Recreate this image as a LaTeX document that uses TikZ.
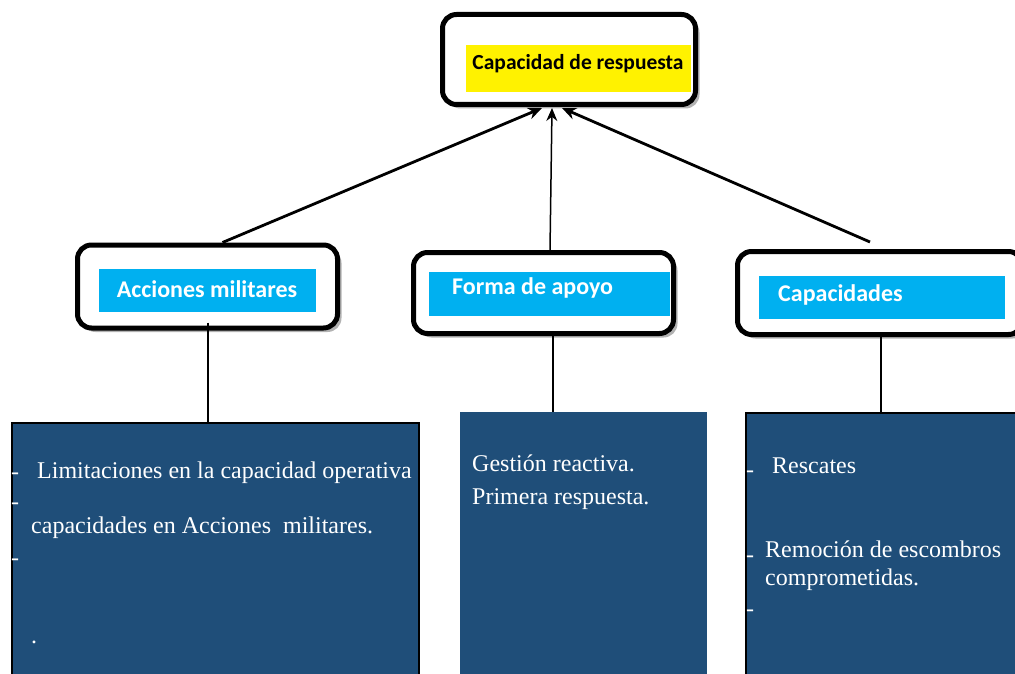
\documentclass[tikz,border=0pt]{standalone}
\usepackage{fontspec}
\setmainfont{Liberation Serif}
\newfontfamily\calfont{Carlito}
\usetikzlibrary{shadows,arrows.meta,calc}
\definecolor{darkblue}{RGB}{31,78,121}
\definecolor{cyanbox}{RGB}{0,176,240}
\begin{document}
\begin{tikzpicture}[x=1pt,y=-1pt,
 outerbox/.style={draw=black, line width=5pt, rounded corners=14pt, fill=white,
   drop shadow={shadow xshift=4pt,shadow yshift=-4pt,opacity=0.3,fill=black}, inner sep=0},
 labelbox/.style={fill=cyanbox, inner sep=0},
 labeltext/.style={text=white, font=\calfont\bfseries\fontsize{24}{28}\selectfont, inner sep=0},
 bodybox/.style={fill=darkblue, inner sep=0},
 bodytext/.style={text=white, font=\fontsize{24}{28}\selectfont, anchor=base west, inner sep=0},
 link/.style={line width=2pt},
 arr/.style={line width=2.8pt, -{Stealth[length=14pt,width=12pt]}}]
\useasboundingbox (0,0) rectangle (1015,674);
\fill[white] (0,0) rectangle (1015,674);

% top box
\node[outerbox, minimum width=253pt, minimum height=90pt] (top) at (569,59.5) {};
\node[fill=yellow, inner sep=0, minimum width=225pt, minimum height=47pt] (topl) at (578.5,68.5) {};
\node[inner sep=0, font=\calfont\bfseries\fontsize{21.5}{25}\selectfont] (toptext) at (578,64) {Capacidad de respuesta};

% middle boxes
\node[outerbox, minimum width=260pt, minimum height=83pt] (acc) at (207.5,286.5) {};
\node[labelbox, minimum width=217pt, minimum height=43pt] (accl) at (207.5,290.5) {};
\node[labeltext] (acct) at (207,289) {Acciones militares};

\node[outerbox, minimum width=260pt, minimum height=81pt] (fa) at (543.5,293) {};
\node[labelbox, minimum width=241pt, minimum height=44pt] (fal) at (549.5,294) {};
\node[labeltext, anchor=west] (fat) at (452,288) {Forma de apoyo};

\node[outerbox, minimum width=285pt, minimum height=83pt] (cap) at (880,293) {};
\node[labelbox, minimum width=246pt, minimum height=43pt] (capl) at (882,297.5) {};
\node[labeltext, anchor=west] (capt) at (778,295) {Capacidades};

% bottom boxes
\node[bodybox, draw=black, line width=2pt, anchor=north west, minimum width=407pt, minimum height=270pt] (lb) at (11,422) {};
\node[bodybox, anchor=north west, minimum width=247pt, minimum height=280pt] (mb) at (460,412) {};
\node[bodybox, draw=black, line width=2pt, anchor=north west, minimum width=280pt, minimum height=280pt] (rb) at (745,412) {};

% arrows
\draw[arr] ($(acc.north)+(15,0)$) -- ($(top.south)+(-27,1)$);
\draw[line width=1.5pt, -{Stealth[length=13pt,width=11pt]}] ($(fa.north)+(6.5,0)$) -- ($(top.south)+(-17,1)$);
\draw[arr] ($(cap.north)+(-10,-7)$) -- ($(top.south)+(-7,1)$);

% vertical links
\draw[link] ($(acc.south)+(0.5,-8)$) coordinate (a1) -- (a1 |- lb.north);
\draw[link] ($(fa.south)+(9.5,0)$) coordinate (f1) -- (f1 |- mb.north);
\draw[link] ($(cap.south)+(1,0)$) coordinate (c1) -- (c1 |- rb.north);

% left texts
\node[bodytext] at (11,479) {-};
\node[bodytext] at (37,478) {Limitaciones en la capacidad operativa};
\node[bodytext] at (11,509) {-};
\node[bodytext] at (31,533) {capacidades en Acciones\ \ militares.};
\node[bodytext] at (11,565) {-};
\node[bodytext] at (31,643) {.};

% middle texts
\node[bodytext] at (472,471) {Gestión reactiva.};
\node[bodytext] at (472,504) {Primera respuesta.};

% right texts
\node[bodytext] at (746,477) {-};
\node[bodytext] at (772,473) {Rescates};
\node[bodytext] at (746,562) {-};
\node[bodytext] at (765,557) {Remoción de escombros};
\node[bodytext] at (765,585) {comprometidas.};
\node[bodytext] at (746,616) {-};
\end{tikzpicture}
\end{document}
